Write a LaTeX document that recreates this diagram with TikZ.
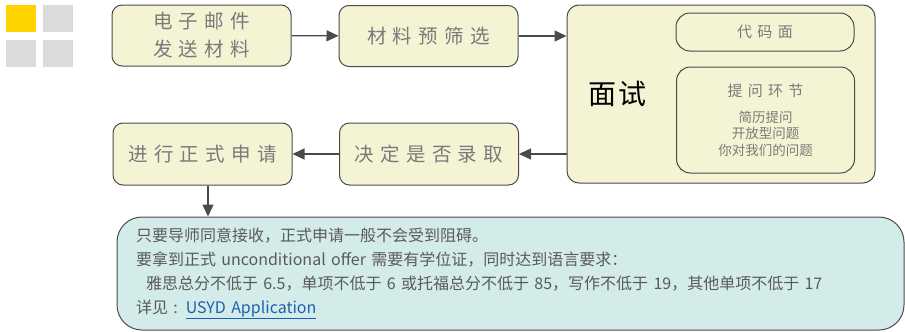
\documentclass[tikz,border=0pt]{standalone}
\usepackage{fontspec}
\setmainfont{Noto Sans CJK SC}
\usetikzlibrary{arrows.meta,positioning}
\definecolor{stagefill}{HTML}{F4F4D5}
\definecolor{notefill}{HTML}{D4ECE9}
\definecolor{linegray}{HTML}{4A4A4A}
\definecolor{textgray}{HTML}{7A7A7A}
\definecolor{notegray}{HTML}{5A5A5A}
\definecolor{linkblue}{HTML}{1F5FB0}
\definecolor{tilegold}{HTML}{FFD300}
\definecolor{tilegray}{HTML}{DBDBDB}
\tikzstyle{stage} = [rectangle, draw=linegray, fill=stagefill, rounded corners=10pt,
    line width=1pt, minimum width=179pt, minimum height=61pt, inner sep=0pt,
    text=textgray, align=center,
    font=\fontsize{19.5}{28}\selectfont\addfontfeature{LetterSpace=32}]
\tikzstyle{part} = [rectangle, draw=linegray, rounded corners=14pt, line width=1pt,
    minimum width=178pt, inner sep=0pt, text=textgray, align=center]
\tikzstyle{flow} = [draw=linegray, line width=1.4pt, -{Triangle[length=12pt,width=11pt]}]

\begin{document}
\begin{tikzpicture}[x=1pt,y=-1pt]
  \useasboundingbox (0,0) rectangle (905,332);

  % logo tiles
  \fill[tilegold] (6,5) rectangle (36,32);
  \fill[tilegray] (43,5) rectangle (73,32);
  \fill[tilegray] (6,40) rectangle (36,67);
  \fill[tilegray] (43,40) rectangle (73,67);

  \node[stage]           (mail)   at (201.5,35.5) {电子邮件\\发送材料};
  \node[stage]           (screen) at (428.5,36)   {材料预筛选};
  \node[stage,minimum width=308pt,minimum height=178pt,rounded corners=12pt,
        text width=266pt,inner xsep=21pt,align=left,text=black,
        font=\fontsize{28}{30}\selectfont\addfontfeature{LetterSpace=8}]
                         (interview) at (721,94) {面试};
  \node[part,minimum height=38pt,
        font=\fontsize{15}{18}\selectfont\addfontfeature{LetterSpace=36}]
                         (coding) at (765,32) {代码面};
  \node[part,minimum height=106pt,font=\fontsize{13.5}{16.5}\selectfont]
                         (qa)     at (765.5,120)
        {{\fontsize{15}{18}\selectfont\addfontfeature{LetterSpace=35}提问环节}\\[9.5pt]
         简历提问\\开放型问题\\你对我们的问题};
  \node[stage,minimum height=62pt] (decide) at (429,154)   {决定是否录取};
  \node[stage,minimum height=62pt] (apply)  at (202.5,154) {进行正式申请};
  \node[rectangle,draw=linegray,fill=notefill,rounded corners=25pt,line width=1pt,
        minimum width=787pt,minimum height=113pt,text width=749pt,inner xsep=19pt,
        inner ysep=0pt,align=left,text=notegray,font=\fontsize{16}{24}\selectfont]
                         (note)   at (510.5,273.5)
        {只要导师同意接收，正式申请一般不会受到阻碍。\\
         要拿到正式 unconditional offer 需要有学位证，同时达到语言要求：\\
         \hspace*{10pt}雅思总分不低于 6.5，单项不低于 6 或托福总分不低于 85，写作不低于 19，其他单项不低于 17\\
         详见 : {\color{linkblue}\underline{USYD Application}}};

  \draw[flow] (mail) -- (screen);
  \draw[flow] (screen.east) -- (screen.east -| interview.west);
  \draw[flow] (interview.west |- decide.east) -- (decide);
  \draw[flow] (decide) -- (apply);
  \draw[flow] ([xshift=5.5pt]apply.south) -- ([xshift=5.5pt]apply.south |- note.north);
\end{tikzpicture}
\end{document}
